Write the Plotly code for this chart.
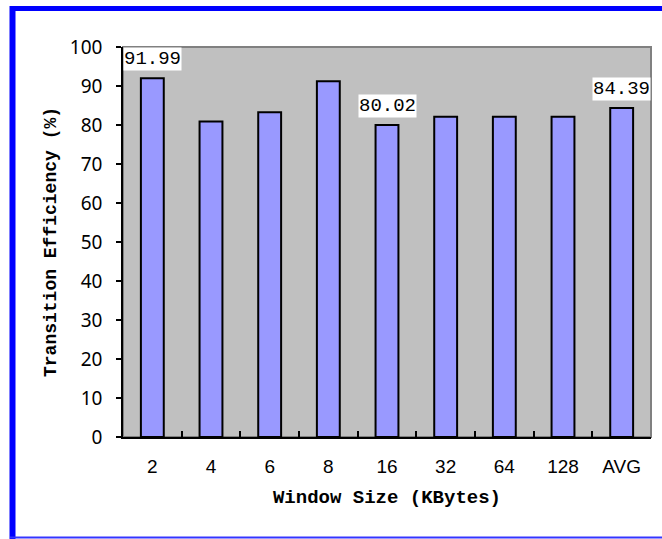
import plotly.graph_objects as go

# Transition efficiency per window size
window_sizes = ["2", "4", "6", "8", "16", "32", "64", "128", "AVG"]
efficiency = [91.99, 80.9, 83.3, 91.2, 80.02, 82.1, 82.1, 82.1, 84.39]
labelled = ["2", "16", "AVG"]

y_ticks = list(range(0, 101, 10))

W, H = 662, 539
M_L, M_R, M_T, M_B = 123, 11, 47, 102
PW, PH = W - M_L - M_R, H - M_T - M_B

MONO = "Liberation Mono, DejaVu Sans Mono, monospace"


def px_x(x):
    return (x - M_L) / PW


def px_y(y):
    return (H - M_B - y) / PH


fig = go.Figure()
fig.add_trace(go.Bar(
    x=window_sizes,
    y=efficiency,
    marker=dict(color="#9999ff", line=dict(color="black", width=2)),
    hoverinfo="x+y",
))

label_font = dict(family=MONO, size=19, color="black")
for i, (cat, val) in enumerate(zip(window_sizes, efficiency)):
    if cat in labelled:
        fig.add_annotation(
            x=i, y=val, text=f"{val:.2f}", showarrow=False,
            yanchor="bottom", yshift=7, bgcolor="white", borderpad=0,
            font=label_font,
        )

shapes = [
    # plot area frame
    dict(type="rect", xref="paper", yref="paper", x0=0, x1=1, y0=0, y1=1,
         line=dict(color="#808080", width=2), layer="below"),
    # outer blue frame
    dict(type="line", xref="paper", yref="paper",
         x0=px_x(12.5), x1=px_x(W + 2), y0=px_y(8.5), y1=px_y(8.5),
         line=dict(color="#0000ff", width=5)),
    dict(type="line", xref="paper", yref="paper",
         x0=px_x(12.5), x1=px_x(12.5), y0=px_y(6), y1=px_y(H + 2),
         line=dict(color="#0000ff", width=6)),
    dict(type="line", xref="paper", yref="paper",
         x0=px_x(10), x1=px_x(W + 2), y0=px_y(537.5), y1=px_y(537.5),
         line=dict(color="#3535ff", width=2)),
]

fig.update_layout(
    width=W, height=H,
    margin=dict(l=M_L, r=M_R, t=M_T, b=M_B, autoexpand=False),
    paper_bgcolor="white",
    plot_bgcolor="#c0c0c0",
    bargap=0.61,
    showlegend=False,
    shapes=shapes,
    xaxis=dict(
        type="category",
        range=[-0.5, len(window_sizes) - 0.5],
        showgrid=False,
        showline=True, linecolor="black", linewidth=2,
        ticks="inside", tickson="boundaries", ticklen=6, tickcolor="black",
        tickwidth=1.5, tickangle=0,
        ticklabelstandoff=11,
        tickfont=dict(family="Liberation Sans", size=19, color="black"),
        title=dict(text="Window Size (KBytes)", standoff=14,
                   font=dict(family=MONO, size=19, color="black",
                             weight="bold")),
    ),
    yaxis=dict(
        range=[0, 100],
        tickvals=y_ticks,
        showgrid=False,
        zeroline=False,
        showline=True, linecolor="black", linewidth=1.5,
        ticks="outside", ticklen=5, tickcolor="black", tickwidth=1.5,
        ticklabelstandoff=10,
        tickfont=dict(family="Noto Sans", size=19, color="black"),
        title=dict(text="Transition Efficiency (%)", standoff=9,
                   font=dict(family=MONO, size=18, color="black",
                             weight="bold")),
    ),
)

fig.write_html("out.html")
